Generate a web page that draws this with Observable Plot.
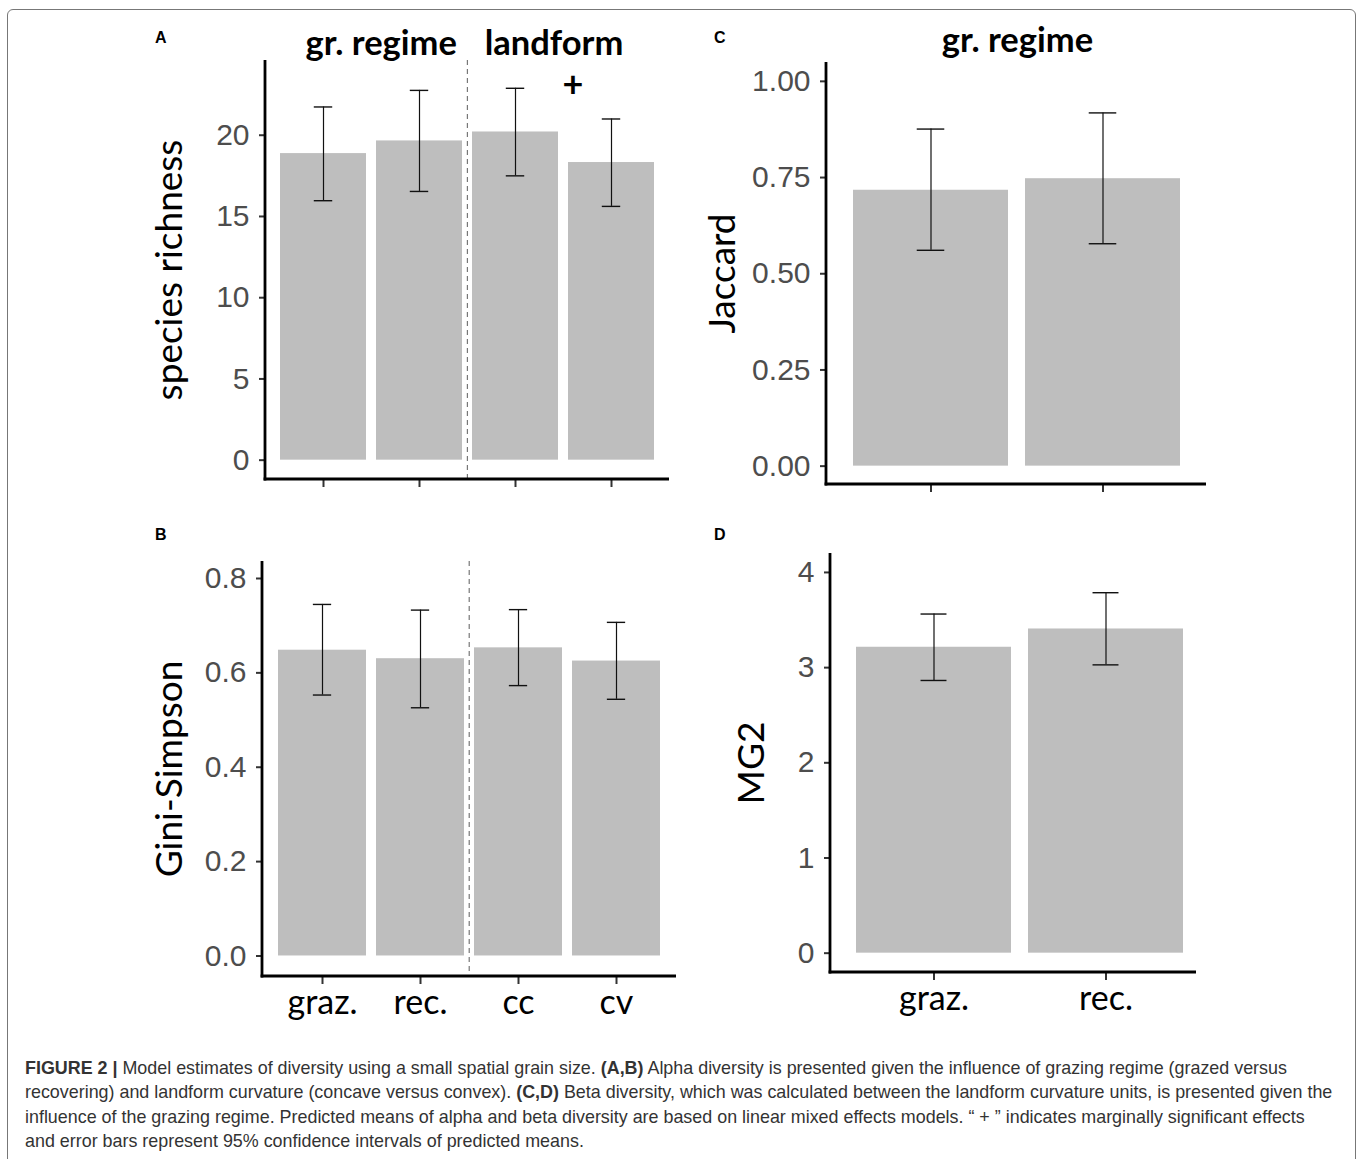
<!DOCTYPE html>
<html><head><meta charset="utf-8">
<script src="https://cdn.jsdelivr.net/npm/d3@7"></script>
<script src="https://cdn.jsdelivr.net/npm/@observablehq/plot@0.6"></script>
<style>
body{margin:0;background:#fff;}
#root{position:relative;width:1358px;height:1159px;overflow:hidden;background:#fff;}
.box{position:absolute;left:7px;top:9px;width:1347px;height:1200px;border:1.5px solid #777;border-radius:6px;}
.panel{position:absolute;}
.lab{position:absolute;font:bold 16px "Liberation Sans",Arial,sans-serif;color:#000;line-height:18px;}
.cap{position:absolute;left:25px;top:1056px;font:17.9px/24.4px "Liberation Sans",Arial,sans-serif;color:#333;white-space:nowrap;}
</style></head><body>
<div id="root">
  <div class="box"></div>
  <div class="lab" style="left:155px;top:29px">A</div>
  <div class="lab" style="left:155px;top:526px">B</div>
  <div class="lab" style="left:714px;top:29px">C</div>
  <div class="lab" style="left:714px;top:526px">D</div>
  <div id="pA" class="panel" style="left:140px;top:15px"></div>
  <div id="pB" class="panel" style="left:140px;top:520px"></div>
  <div id="pC" class="panel" style="left:700px;top:15px"></div>
  <div id="pD" class="panel" style="left:700px;top:520px"></div>
  <div class="cap"><b>FIGURE 2 |</b> Model estimates of diversity using a small spatial grain size. <b>(A,B)</b> Alpha diversity is presented given the influence of grazing regime (grazed versus<br>recovering) and landform curvature (concave versus convex). <b>(C,D)</b> Beta diversity, which was calculated between the landform curvature units, is presented given the<br>influence of the grazing regime. Predicted means of alpha and beta diversity are based on linear mixed effects models. “ + ” indicates marginally significant effects<br>and error bars represent 95% confidence intervals of predicted means.</div>
</div>
<script>
// ---- data ----
const alphaCats = ["graz.", "rec.", "cc", "cv"];
const richMean = [18.87, 19.65, 20.20, 18.32];
const richLo   = [15.97, 16.54, 17.50, 15.62];
const richHi   = [21.74, 22.76, 22.89, 21.00];
const giniMean = [0.648, 0.630, 0.653, 0.625];
const giniLo   = [0.553, 0.526, 0.573, 0.544];
const giniHi   = [0.745, 0.733, 0.734, 0.707];
const betaCats = ["graz.", "rec."];
const jacMean = [0.717, 0.747];
const jacLo   = [0.561, 0.578];
const jacHi   = [0.876, 0.918];
const mg2Mean = [3.214, 3.406];
const mg2Lo   = [2.865, 3.029];
const mg2Hi   = [3.563, 3.787];
const richTicks = [0, 5, 10, 15, 20];
const giniTicks = [0, 0.2, 0.4, 0.6, 0.8];
const jacTicks  = [0, 0.25, 0.5, 0.75, 1];
const mg2Ticks  = [0, 1, 2, 3, 4];

const rows = (cats, m, lo, hi) => cats.map((c, i) => ({cat: c, mean: m[i], lo: lo[i], hi: hi[i]}));

function panel(el, cfg) {
  const {cats, data, yDomain, ticks, fmt, ytitle, W, H, ml, mr, mt, mb, xRange, capW,
         showLabels, titles = [], plus = null, dashed = false, tdx} = cfg;
  const pi = 0.1, po = 0.15;
  const xr = xRange || [ml, W - mr];
  const step = (xr[1] - xr[0]) / (cats.length - pi + 2 * po);
  const bw = step * (1 - pi);
  const inset = (bw - capW) / 2;
  const marks = [
    Plot.barY(data, {x: "cat", y1: 0, y2: "mean", fill: "#bebebe"}),
    Plot.ruleX(data, {x: "cat", y1: "lo", y2: "hi", stroke: "#111", strokeWidth: 1.2}),
    Plot.tickY(data, {x: "cat", y: "lo", stroke: "#111", strokeWidth: 1.4, insetLeft: inset, insetRight: inset}),
    Plot.tickY(data, {x: "cat", y: "hi", stroke: "#111", strokeWidth: 1.4, insetLeft: inset, insetRight: inset}),
    Plot.axisY({ticks, tickFormat: fmt, tickSize: 6, tickPadding: 10, fontSize: 30, color: "#4d4d4d", label: null}),
    Plot.axisX({tickSize: 8, tickPadding: 5, fontSize: 34, fontFamily: "Lato", color: "#000", label: null,
                tickFormat: showLabels ? (d => d) : (() => "")}),
    Plot.text([ytitle], {frameAnchor: "left", dx: tdx, rotate: -90, textAnchor: "middle", lineAnchor: "middle",
                fontSize: 37, fontFamily: "Lato", fill: "#000"})
  ];
  if (dashed) marks.push(Plot.ruleX([dashed], {x: d => d, dx: -step / 2, stroke: "#777", strokeWidth: 1.2, strokeDasharray: "5,4"}));
  for (const t of titles) {
    marks.push(Plot.text([t.text], {x: () => t.cat, dx: t.off * step, frameAnchor: "top", dy: t.dy,
      lineAnchor: "middle", textAnchor: "middle",
      fontSize: 34.5, fontWeight: "bold", fontFamily: "Lato", fill: "#000"}));
  }
  if (plus) marks.push(Plot.text(["+"], {x: () => plus.cat, dx: plus.off * step, frameAnchor: "top", dy: plus.dy,
      lineAnchor: "middle", textAnchor: "middle",
      fontSize: 36, fontWeight: "bold", fontFamily: "Lato", fill: "#000"}));
  const svg = Plot.plot({
    width: W, height: H, marginLeft: ml, marginRight: mr, marginTop: mt, marginBottom: mb,
    style: {fontFamily: "'Liberation Sans', Arial, sans-serif", background: "transparent", overflow: "visible"},
    x: {type: "band", domain: cats, range: xRange, paddingInner: pi, paddingOuter: po, align: 0.5},
    y: {domain: yDomain},
    marks
  });
  const s = d3.select(svg);
  s.selectAll('g[aria-label="y-axis tick"] path, g[aria-label="x-axis tick"] path').attr("stroke", "#333").attr("stroke-width", 2);
  s.append("line").attr("x1", ml).attr("x2", ml).attr("y1", mt).attr("y2", H - mb + 1.4)
    .attr("stroke", "#000").attr("stroke-width", 2.8);
  s.append("line").attr("x1", ml - 1.4).attr("x2", W - mr).attr("y1", H - mb).attr("y2", H - mb)
    .attr("stroke", "#000").attr("stroke-width", 2.8);
  document.getElementById(el).appendChild(svg);
}

panel("pA", {cats: alphaCats, data: rows(alphaCats, richMean, richLo, richHi), yDomain: [-1.19, 24.6],
  ticks: richTicks, fmt: d3.format("d"), ytitle: "species richness",
  W: 545, H: 495, ml: 125, mr: 16, mt: 45, mb: 31, capW: 19, showLabels: false, dashed: "cc", tdx: -95,
  titles: [{text: "gr. regime", cat: "graz.", off: 0.6, dy: -17}, {text: "landform", cat: "cc", off: 0.4, dy: -17}],
  plus: {cat: "cv", off: -0.4, dy: 25}});

panel("pB", {cats: alphaCats, data: rows(alphaCats, giniMean, giniLo, giniHi), yDomain: [-0.0435, 0.836],
  ticks: giniTicks, fmt: d3.format(".1f"), ytitle: "Gini-Simpson",
  W: 545, H: 510, ml: 122, mr: 9, mt: 41, mb: 54, capW: 19, showLabels: true, dashed: "cc", tdx: -92});

panel("pC", {cats: betaCats, data: rows(betaCats, jacMean, jacLo, jacHi), yDomain: [-0.0477, 1.049],
  ticks: jacTicks, fmt: d3.format(".2f"), ytitle: "Jaccard",
  W: 520, H: 495, ml: 126, mr: 14, mt: 47, mb: 26, capW: 28, showLabels: false, tdx: -103,
  titles: [{text: "gr. regime", cat: "graz.", off: 0.5, dy: -22}]});

panel("pD", {cats: betaCats, data: rows(betaCats, mg2Mean, mg2Lo, mg2Hi), yDomain: [-0.203, 4.199],
  ticks: mg2Ticks, fmt: d3.format("d"), ytitle: "MG2",
  W: 520, H: 510, ml: 130, mr: 24, mt: 33, mb: 58, xRange: [130, 509], capW: 26, showLabels: true, tdx: -78});
</script>
</body></html>
